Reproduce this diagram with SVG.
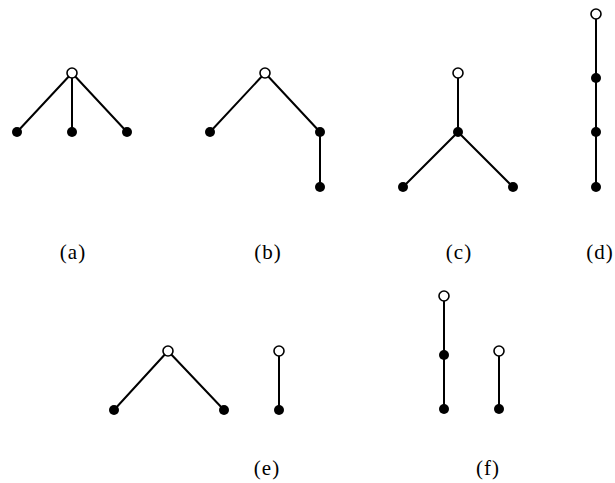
<svg xmlns="http://www.w3.org/2000/svg" width="615" height="483" viewBox="0 0 615 483">
<style>
.e{stroke:#000;stroke-width:2;fill:none}
.r{fill:#fff;stroke:#000;stroke-width:1.6}
.f{fill:#000}
.l{font-family:"Liberation Serif",serif;font-size:21px;letter-spacing:1px;fill:#000;text-anchor:middle}
</style>
<rect width="615" height="483" fill="#fff"/>
<g id="connectors">
<path class="e" d="M72,73L17,132M72,73L72,132M72,73L127,132"/>
<path class="e" d="M265,73L210,132M265,73L320,132L320,187"/>
<path class="e" d="M458,73L458,132L403,187M458,132L513,187"/>
<path class="e" d="M596,14L596,187"/>
<path class="e" d="M168,351L114,410M168,351L224,410M279,351L279,410"/>
<path class="e" d="M444,296L444,409M499,351L499,409"/>
</g>
<g id="a">
<circle class="f" cx="17" cy="132" r="5"/><circle class="f" cx="72" cy="132" r="5"/><circle class="f" cx="127" cy="132" r="5"/>
<circle class="r" cx="72" cy="73" r="5"/>
<text class="l" x="73" y="259">(a)</text>
</g>
<g id="b">
<circle class="f" cx="210" cy="132" r="5"/><circle class="f" cx="320" cy="132" r="5"/><circle class="f" cx="320" cy="187" r="5"/>
<circle class="r" cx="265" cy="73" r="5"/>
<text class="l" x="268" y="259">(b)</text>
</g>
<g id="c">
<circle class="f" cx="458" cy="132" r="5"/><circle class="f" cx="403" cy="187" r="5"/><circle class="f" cx="513" cy="187" r="5"/>
<circle class="r" cx="458" cy="73" r="5"/>
<text class="l" x="459" y="259">(c)</text>
</g>
<g id="d">
<circle class="f" cx="596" cy="78" r="5"/><circle class="f" cx="596" cy="132" r="5"/><circle class="f" cx="596" cy="187" r="5"/>
<circle class="r" cx="596" cy="14" r="5"/>
<text class="l" x="600" y="259">(d)</text>
</g>
<g id="e">
<circle class="f" cx="114" cy="410" r="5"/><circle class="f" cx="224" cy="410" r="5"/><circle class="f" cx="279" cy="410" r="5"/>
<circle class="r" cx="168" cy="351" r="5"/><circle class="r" cx="279" cy="351" r="5"/>
<text class="l" x="267" y="475">(e)</text>
</g>
<g id="f">
<circle class="f" cx="444" cy="355" r="5"/><circle class="f" cx="444" cy="409" r="5"/><circle class="f" cx="499" cy="409" r="5"/>
<circle class="r" cx="444" cy="296" r="5"/><circle class="r" cx="499" cy="351" r="5"/>
<text class="l" x="488" y="475">(f)</text>
</g>
</svg>
